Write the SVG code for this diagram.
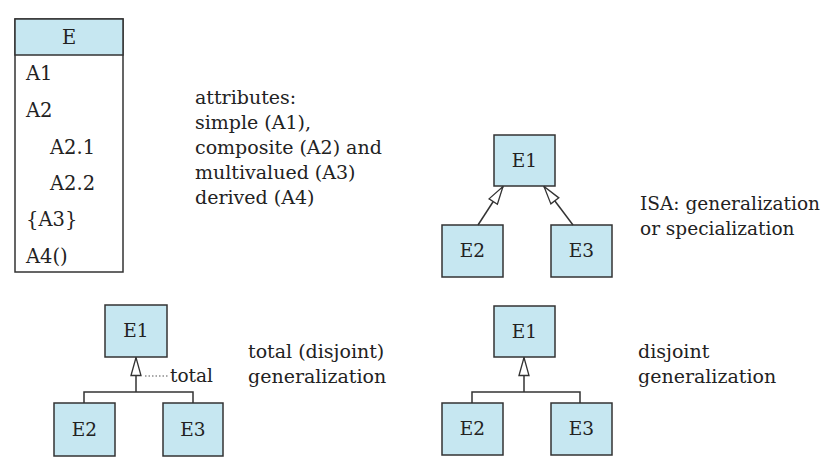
<svg xmlns="http://www.w3.org/2000/svg" width="828" height="461" viewBox="0 0 828 461">
<style>
text{font-family:"DejaVu Serif","Liberation Serif",serif;font-size:18.5px;fill:#222}
.t{font-size:19.5px}
.k{font-size:19px}
.n{fill:#c6e7f1;stroke:#333;stroke-width:1.5}
.b{fill:#fff;stroke:#333;stroke-width:1.5}
.c{fill:none;stroke:#333;stroke-width:1.5}
.d{fill:none;stroke:#555;stroke-width:1.2;stroke-dasharray:1.5 2}
.m{text-anchor:middle}
</style>
<defs>
<marker id="tri" viewBox="0 0 20 12" refX="19" refY="6" markerWidth="20" markerHeight="12" markerUnits="userSpaceOnUse" orient="auto">
<path d="M1,1 L19,6 L1,11 Z" fill="#fff" stroke="#333" stroke-width="1.3"/>
</marker>
</defs>
<g id="entity-E">
<rect class="b" x="15" y="19" width="108" height="253"/>
<rect class="n" x="15" y="19" width="108" height="36"/>
<text class="m t" x="69" y="44">E</text>
<text class="t" x="26" y="80">A1</text>
<text class="t" x="26" y="117">A2</text>
<text class="t" x="50" y="154">A2.1</text>
<text class="t" x="50" y="190">A2.2</text>
<text class="t" x="26" y="226">{A3}</text>
<text class="t" x="26" y="263">A4()</text>
</g>
<g id="attr-note">
<text class="k" x="195" y="104">attributes:</text>
<text class="k" x="195" y="129">simple (A1),</text>
<text class="k" x="195" y="154">composite (A2) and</text>
<text class="k" x="195" y="179">multivalued (A3)</text>
<text class="k" x="195" y="204">derived (A4)</text>
</g>
<g id="isa-E1"><rect class="n" x="494" y="135" width="61" height="51"/><text class="m" x="524.5" y="167">E1</text></g>
<g id="isa-E2"><rect class="n" x="442" y="225" width="61" height="52"/><text class="m" x="472.5" y="257">E2</text></g>
<g id="isa-E3"><rect class="n" x="551" y="225" width="61" height="52"/><text class="m" x="581.5" y="257">E3</text></g>
<g id="isa-note">
<text x="640" y="210">ISA: generalization</text>
<text x="640" y="235">or specialization</text>
</g>
<g id="tot-E1"><rect class="n" x="105" y="305" width="62" height="52"/><text class="m" x="136" y="337">E1</text></g>
<g id="tot-E2"><rect class="n" x="54" y="403" width="61" height="53"/><text class="m" x="84.5" y="436">E2</text></g>
<g id="tot-E3"><rect class="n" x="163" y="403" width="60" height="53"/><text class="m" x="193" y="436">E3</text></g>
<g id="tot-note">
<text class="k" x="248" y="358">total (disjoint)</text>
<text class="k" x="248" y="383">generalization</text>
</g>
<g id="dis-E1"><rect class="n" x="494" y="306" width="61" height="51"/><text class="m" x="524.5" y="338">E1</text></g>
<g id="dis-E2"><rect class="n" x="442" y="403" width="61" height="52"/><text class="m" x="472.5" y="435">E2</text></g>
<g id="dis-E3"><rect class="n" x="551" y="403" width="61" height="52"/><text class="m" x="581.5" y="435">E3</text></g>
<g id="dis-note">
<text class="k" x="638" y="358">disjoint</text>
<text class="k" x="638" y="383">generalization</text>
</g>
<g id="connectors">
<line class="c" x1="478" y1="225" x2="503" y2="186.5" marker-end="url(#tri)"/>
<line class="c" x1="573" y1="225" x2="544" y2="186.5" marker-end="url(#tri)"/>
<path class="c" d="M84,403 V392 H193 V403"/>
<line class="c" x1="136" y1="392" x2="136" y2="357.5" marker-end="url(#tri)"/>
<line class="d" x1="145" y1="376" x2="168" y2="376"/>
<text x="170" y="382">total</text>
<path class="c" d="M472,403 V392 H580 V403"/>
<line class="c" x1="524" y1="392" x2="524" y2="357.5" marker-end="url(#tri)"/>
</g>
</svg>
